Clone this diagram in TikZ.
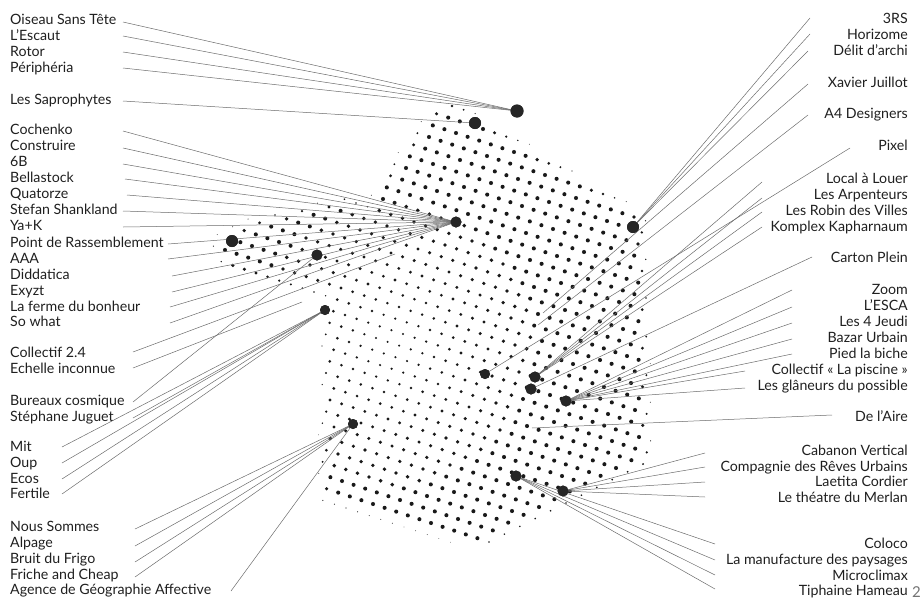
\documentclass[tikz,border=0pt]{standalone}
\usepackage{fontspec}
\setmainfont{Lato}
\begin{document}
\begin{tikzpicture}[x=1pt,y=-1pt]
\tikzset{
  lab/.style={font=\fontsize{14.2}{16}\selectfont, text=black!88, inner sep=0pt},
  llab/.style={lab, anchor=base west},
  rlab/.style={lab, anchor=base east},
  conn/.style={draw=black!58, line width=0.5pt},
  hub/.style={circle, fill=black!85, draw=none, inner sep=0pt, minimum size=11pt},
  dotc/.style={fill=black!90},
}
\useasboundingbox (0,0) rectangle (923,600);

% ---------- halftone dot field ----------
\foreach \i in {-23,...,23}{
  \foreach \j in {-23,...,23}{
    \pgfmathsetmacro\px{430+11.6*\i+3.8*\j}
    \pgfmathsetmacro\py{330+3.8*\i-11.6*\j}
    \pgfmathsetmacro\mma{min(-0.508*(\px)+0.861*(\py)+142.5, -1*(\px)+0.0202*(\py)+640.5, -0.447*(\px)-0.894*(\py)+703.6, 0.299*(\px)-0.954*(\py)+379.9, 0.9999*(\px)+0.0143*(\py)-327.2, 0.903*(\px)+0.430*(\py)-420.9, 0.812*(\px)+0.584*(\py)-414.9, 0.485*(\px)+0.874*(\py)-305.6)}
    \pgfmathsetmacro\mlb{min(0.466*(\px)+0.885*(\py)-311.2, 0.2256*(\px)+0.9744*(\py)-270.8, -0.391*(\px)+0.920*(\py)-47.3, -0.9086*(\px)-0.4178*(\py)+439.6, 0.2577*(\px)-0.9662*(\py)+202.9, 0.917*(\px)-0.398*(\py)-98.8)}
    \pgfmathsetmacro\mxx{max(\mma,\mlb)}
    \pgfmathsetmacro\dst{100*veclen((\px-392)/100,(\py-345)/100)}
    \pgfmathsetmacro\rad{(1.1+0.95*min(1,\dst/150))*max(0,min(1,(\mxx+5)/13))}
    \ifdim\rad pt>0.35pt \fill[dotc] (\px,\py) circle[radius=\rad pt];\fi
  }
}

% ---------- hubs ----------
\node[hub, minimum size=13pt] (H1) at (517,111) {};
\node[hub, minimum size=12pt] (H2) at (475,123) {};
\node[hub] (H3) at (456,222) {};
\node[hub, minimum size=12pt] (PR) at (232,241) {};
\node[hub] (H4) at (317,255) {};
\node[hub, minimum size=10pt] (H5) at (325,310) {};
\node[hub, minimum size=10pt] (H6) at (353,424) {};
\node[hub, minimum size=12pt] (R1) at (633,227) {};
\node[hub, minimum size=10pt] (R2) at (485,374) {};
\node[hub] (R3) at (535,377) {};
\node[hub] (R4) at (531,389) {};
\node[hub] (R5) at (566,401) {};
\node[hub] (R6) at (516,476) {};
\node[hub] (R7) at (563,491) {};
\coordinate (E1) at (395,254);
\coordinate (E2) at (302,302);
\coordinate (E3) at (543,313);
\coordinate (E4) at (538,325);
\coordinate (E5) at (532,428);

% ---------- labels and connectors ----------
\newcommand{\Lft}[5]{\node[llab] (#1) at (10,#2) {#4}; \coordinate (#1s) at (#3); \draw[conn] (#1s) -- (#5.center);}
\newcommand{\Rgt}[5]{\node[rlab] (#1) at (908,#2) {#4}; \coordinate (#1s) at (#3); \draw[conn] (#1s) -- (#5.center);}

\Lft{lA}{24}{123,22}{Oiseau Sans Tête}{H1}
\Lft{lB}{40}{123,36}{L'Escaut}{H1}
\Lft{lC}{56}{123,52}{Rotor}{H1}
\Lft{lD}{72}{123,68}{Périphéria}{H1}
\Lft{lE}{104}{123,101}{Les Saprophytes}{H2}
\Lft{lF}{134}{123,131}{Cochenko}{H3}
\Lft{lG}{150}{123,148}{Construire}{H3}
\Lft{lH}{166}{123,164}{6B}{H3}
\Lft{lI}{182}{125,179}{Bellastock}{H3}
\Lft{lJ}{198}{127,195}{Quatorze}{H3}
\Lft{lK}{214}{123,211}{Stefan Shankland}{H3}
\Lft{lL}{230}{123,227}{Ya+K}{H3}
\Lft{lM}{247}{168,244}{Point de Rassemblement}{H3}
\Lft{lN}{263}{168,259}{AAA}{H3}
\Lft{lO}{279}{172,276}{Diddatica}{H3}
\Lft{lP}{295}{172,292}{Exyzt}{H3}
\Lft{lQ}{311}{170,307}{La ferme du bonheur}{H3}
\Lft{lR}{326}{170,323}{So what}{H3}
\Lft{lS}{357}{133,352}{Collectif 2.4}{E1}
\Lft{lT}{373}{133,368}{Echelle inconnue}{E2}
\Lft{lU}{405}{133,402}{Bureaux cosmique}{H4}
\Lft{lV}{421}{133,418}{Stéphane Juguet}{H5}
\Lft{lW}{451}{62,447}{Mit}{H5}
\Lft{lX}{467}{62,463}{Oup}{H5}
\Lft{lY}{483}{62,479}{Ecos}{H5}
\Lft{lZ}{498}{62,494}{Fertile}{H5}
\Lft{la}{531}{135,529}{Nous Sommes}{H6}
\Lft{lb}{547}{135,546}{Alpage}{H6}
\Lft{lc}{563}{135,562}{Bruit du Frigo}{H6}
\Lft{ld}{579}{135,577}{Friche and Cheap}{H6}
\Lft{le}{594}{231,591}{Agence de Géographie Affective}{H6}

\Rgt{rA}{23}{810,18}{3RS}{R1}
\Rgt{rB}{39}{810,34}{Horizome}{R1}
\Rgt{rC}{55}{808,51}{Délit d'archi}{R1}
\Rgt{rD}{87}{808,84}{Xavier Juillot}{E3}
\Rgt{rE}{118}{808,115}{A4 Designers}{E4}
\Rgt{rF}{150}{850,148}{Pixel}{R2}
\Rgt{rG}{183}{762,182}{Local à Louer}{R3}
\Rgt{rH}{199}{762,198}{Les Arpenteurs}{R3}
\Rgt{rI}{215}{762,212}{Les Robin des Villes}{R3}
\Rgt{rJ}{231}{762,227}{Komplex Kapharnaum}{R3}
\Rgt{rK}{262}{812,257}{Carton Plein}{R4}
\Rgt{rL}{294}{792,290}{Zoom}{R5}
\Rgt{rM}{310}{792,307}{L'ESCA}{R5}
\Rgt{rN}{326}{792,323}{Les 4 Jeudi}{R5}
\Rgt{rO}{342}{792,339}{Bazar Urbain}{R5}
\Rgt{rP}{358}{792,354}{Pied la biche}{R5}
\Rgt{rQ}{374}{745,371}{Collectif «~La piscine~»}{R5}
\Rgt{rR}{390}{745,388}{Les glâneurs du possible}{R5}
\Rgt{rS}{421}{832,415}{De l'Aire}{E5}
\Rgt{rT}{455}{705,453}{Cabanon Vertical}{R7}
\Rgt{rU}{471}{705,467}{Compagnie des Rêves Urbains}{R7}
\Rgt{rV}{486}{705,482}{Laetita Cordier}{R7}
\Rgt{rW}{502}{705,497}{Le théatre du Merlan}{R7}
\Rgt{rX}{548}{715,544}{Coloco}{R6}
\Rgt{rY}{564}{715,560}{La manufacture des paysages}{R6}
\Rgt{rZ}{580}{715,575}{Microclimax}{R6}
\Rgt{r0}{595}{715,589}{Tiphaine Hameau}{R6}

% hubs again, on top of the connectors
\node[hub, minimum size=13pt] at (H1) {};
\node[hub, minimum size=12pt] at (H2) {};
\node[hub] at (H3) {};
\node[hub, minimum size=12pt] at (PR) {};
\node[hub] at (H4) {};
\node[hub, minimum size=10pt] at (H5) {};
\node[hub, minimum size=10pt] at (H6) {};
\node[hub, minimum size=12pt] at (R1) {};
\node[hub, minimum size=10pt] at (R2) {};
\node[hub] at (R3) {};
\node[hub] at (R4) {};
\node[hub] at (R5) {};
\node[hub] at (R6) {};
\node[hub] at (R7) {};

\node[font=\fontsize{15}{15}\selectfont, text=black!55, inner sep=0pt, anchor=base west] (pg) at (912,597) {2};
\end{tikzpicture}
\end{document}
